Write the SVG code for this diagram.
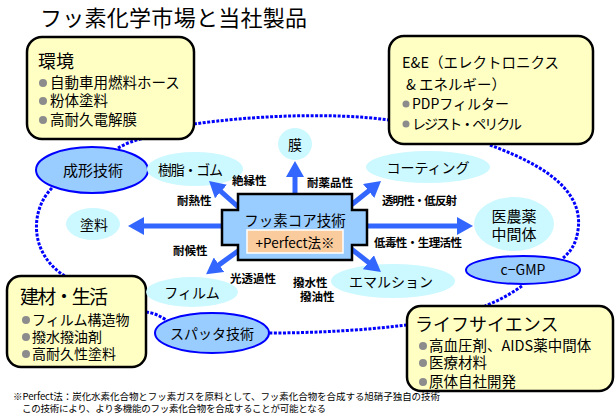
<svg xmlns="http://www.w3.org/2000/svg" width="615" height="418" viewBox="0 0 615 418">
<defs>
<style>
text{font-family:"Noto Sans CJK JP","Liberation Sans",sans-serif;fill:#000}
.box{fill:#FFFFC4;stroke:#000;stroke-width:2.5}
.cy{fill:#CCF8FF;stroke:none}
.bl{fill:#99CCFF;stroke:#0000FF;stroke-width:2}
.arr{stroke:#3366FF;stroke-width:5;fill:none;marker-end:url(#ah)}
.dot{stroke:#0000FF;stroke-width:3;fill:none;stroke-dasharray:3 1.5}
.lbl{font-size:11.5px;font-weight:700}
.nd{font-size:14px}
.bt{font-size:14.5px}
.bul{fill:#8C8C8C}
</style>
<marker id="ah" viewBox="0 0 16 18" markerWidth="16" markerHeight="18" refX="4" refY="9" orient="auto" markerUnits="userSpaceOnUse">
<path d="M0,0 L16,9 L0,18 z" fill="#3366FF"/>
</marker>
</defs>
<rect width="615" height="418" fill="#fff"/>
<text x="40" y="26" font-size="22" textLength="267">フッ素化学市場と当社製品</text>

<g id="dotted-loop">
<path class="dot" d="M194,124 C250,116 330,112 389,120"/>
<path class="dot" d="M490,145 C530,160 585,185 578,230 C576,245 570,252 563,258"/>
<path class="dot" d="M522,286 Q505,298 485,306"/>
<path class="dot" d="M407,325 Q340,333 269,333"/>
<path class="dot" d="M146,312 Q156,313 166,320"/>
<path class="dot" d="M52,188 C30,210 28,255 68,278"/>
<path class="dot" d="M118,148 Q130,141 145,138"/>
</g>

<g id="kankyo">
<rect class="box" x="27" y="37" width="167" height="102" rx="15"/>
<text x="38" y="68" font-size="18">環境</text>
<circle class="bul" cx="43" cy="83" r="4"/><text class="bt" x="50" y="88">自動車用燃料ホース</text>
<circle class="bul" cx="43" cy="101" r="4"/><text class="bt" x="50" y="106">粉体塗料</text>
<circle class="bul" cx="43" cy="120" r="4"/><text class="bt" x="50" y="125">高耐久電解膜</text>
</g>
<g id="ee">
<rect class="box" x="389" y="36" width="204" height="108" rx="15"/>
<text x="402" y="68" font-size="14.5">E&amp;E（エレクトロニクス</text>
<text x="406" y="90" font-size="14.5">&amp; エネルギー）</text>
<circle class="bul" cx="406" cy="104" r="3.5"/><text x="412" y="109" font-size="14">PDPフィルター</text>
<circle class="bul" cx="406" cy="124" r="3.5"/><text x="412" y="129" font-size="14" textLength="110">レジスト・ペリクル</text>
</g>
<g id="kenzai">
<rect class="box" x="7" y="276" width="139" height="91" rx="14"/>
<text x="20" y="304" font-size="19" textLength="88">建材・生活</text>
<circle class="bul" cx="26" cy="320" r="4"/><text x="32" y="325" font-size="14">フィルム構造物</text>
<circle class="bul" cx="26" cy="337" r="4"/><text x="32" y="342" font-size="14">撥水撥油剤</text>
<circle class="bul" cx="26" cy="354" r="4"/><text x="32" y="359" font-size="14">高耐久性塗料</text>
</g>
<g id="life">
<rect class="box" x="407" y="306" width="206" height="85" rx="14"/>
<text x="415" y="331" font-size="18">ライフサイエンス</text>
<circle class="bul" cx="423" cy="346" r="4"/><text class="bt" x="429" y="351">高血圧剤、AIDS薬中間体</text>
<circle class="bul" cx="423" cy="363" r="4"/><text class="bt" x="429" y="368">医療材料</text>
<circle class="bul" cx="423" cy="382" r="4"/><text class="bt" x="429" y="387">原体自社開発</text>
</g>

<g id="seikei"><ellipse class="bl" cx="92" cy="170" rx="56" ry="23"/><text x="93" y="176" font-size="15" text-anchor="middle">成形技術</text></g>
<g id="cgmp"><ellipse class="bl" cx="523" cy="270" rx="57" ry="14"/><text x="523" y="275" font-size="14" text-anchor="middle" font-family="Liberation Sans, sans-serif">c−GMP</text></g>
<g id="sputter"><ellipse class="bl" cx="212" cy="333" rx="57" ry="20"/><text x="212" y="339" class="nd" text-anchor="middle">スパッタ技術</text></g>

<g id="maku"><ellipse class="cy" cx="295" cy="144" rx="17" ry="16"/><text x="295" y="150" class="nd" text-anchor="middle">膜</text></g>
<g id="jushi"><ellipse class="cy" cx="195" cy="169" rx="48" ry="17"/><text x="158" y="175" class="nd" textLength="65">樹脂・ゴム</text></g>
<g id="coating"><ellipse class="cy" cx="428" cy="167" rx="62" ry="16"/><text x="428" y="173" class="nd" text-anchor="middle">コーティング</text></g>
<g id="toryo"><ellipse class="cy" cx="93" cy="224" rx="27" ry="16"/><text x="94" y="230" class="nd" text-anchor="middle">塗料</text></g>
<g id="inoyaku"><ellipse class="cy" cx="514" cy="224" rx="40" ry="27"/><text x="514" y="222" font-size="15" text-anchor="middle">医農薬</text><text x="514" y="240" font-size="15" text-anchor="middle">中間体</text></g>
<g id="film"><ellipse class="cy" cx="192" cy="292" rx="46" ry="15"/><text x="192" y="298" class="nd" text-anchor="middle">フィルム</text></g>
<g id="emulsion"><ellipse class="cy" cx="393" cy="281" rx="62" ry="17"/><text x="391" y="287" class="nd" text-anchor="middle">エマルション</text></g>

<g id="connectors">
<line class="arr" x1="295" y1="200" x2="295" y2="173"/>
<line class="arr" x1="245" y1="213" x2="218" y2="188.9"/>
<line class="arr" x1="345" y1="210" x2="371.7" y2="188.5"/>
<line class="arr" x1="230" y1="226" x2="140" y2="226"/>
<line class="arr" x1="360" y1="226" x2="461" y2="226"/>
<line class="arr" x1="245" y1="246" x2="215.8" y2="267.1"/>
<line class="arr" x1="345" y1="244" x2="371.5" y2="264.7"/>
</g>

<g id="core">
<polygon points="238,194 352,194 352,210 367,210 367,245 352,245 352,260 238,260 238,245 222,245 222,210 238,210" fill="#99CCFF" stroke="#000" stroke-width="2.5"/>
<text x="295" y="226" font-size="14.5" text-anchor="middle">フッ素コア技術</text>
<rect x="247" y="230" width="96" height="23" fill="#FACB9C" stroke="#fff" stroke-width="1.5"/>
<text x="295" y="248" font-size="13.5" text-anchor="middle">+Perfect法※</text>
</g>

<g id="labels">
<text class="lbl" x="232" y="185">絶縁性</text>
<text class="lbl" x="177" y="205">耐熱性</text>
<text class="lbl" x="307" y="187">耐薬品性</text>
<text class="lbl" x="382" y="205" textLength="75">透明性・低反射</text>
<text class="lbl" x="374" y="247" textLength="88">低毒性・生理活性</text>
<text class="lbl" x="173" y="255">耐候性</text>
<text class="lbl" x="230" y="283">光透過性</text>
<text class="lbl" x="293" y="287">撥水性</text>
<text class="lbl" x="300" y="301">撥油性</text>
</g>

<text x="13" y="400" font-size="9.5" textLength="427">※Perfect法：炭化水素化合物とフッ素ガスを原料として、フッ素化合物を合成する旭硝子独自の技術</text>
<text x="22" y="412" font-size="9.5" textLength="304">この技術により、より多機能のフッ素化合物を合成することが可能となる</text>
</svg>
